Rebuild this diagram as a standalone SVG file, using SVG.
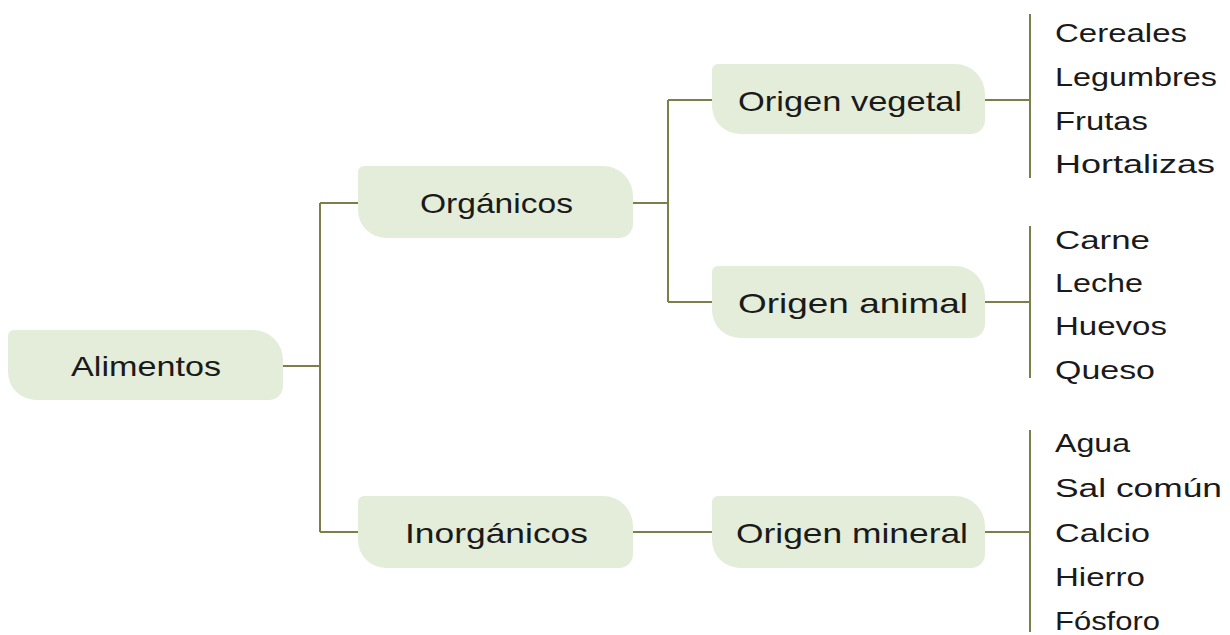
<svg xmlns="http://www.w3.org/2000/svg" width="1230" height="635" viewBox="0 0 1230 635">
<style>
.box{fill:#e3edda;}
.nt{font-family:"Liberation Sans","DejaVu Sans",sans-serif;font-size:28px;fill:#1a1a1a;text-anchor:start;}
.lt{font-family:"Liberation Sans","DejaVu Sans",sans-serif;font-size:25px;fill:#1a1a1a;}
.ln{stroke:#7d7f4a;stroke-width:2;fill:none;}
</style>
<rect width="1230" height="635" fill="#ffffff"/>
<g id="connectors" class="ln">
<path d="M283,366 H320 M320,203 V532 M320,203 H358 M320,532 H358"/>
<path d="M633,203 H668 M668,100 V302 M668,100 H712 M668,302 H712"/>
<path d="M633,532 H712"/>
<path d="M985,100 H1030 M1030,14 V178"/>
<path d="M985,302 H1030 M1030,226 V378"/>
<path d="M985,532 H1030 M1030,430 V632"/>
</g>
<g id="alimentos">
<path class="box" d="M14,330 H253 A30,30 0 0 1 283,360 V386 A14,14 0 0 1 269,400 H36 A28,28 0 0 1 8,372 V336 A6,6 0 0 1 14,330 Z"/>
<text class="nt" x="71" y="376" textLength="150" lengthAdjust="spacingAndGlyphs">Alimentos</text>
</g>
<g id="organicos">
<path class="box" d="M364,166 H603 A30,30 0 0 1 633,196 V224 A14,14 0 0 1 619,238 H386 A28,28 0 0 1 358,210 V172 A6,6 0 0 1 364,166 Z"/>
<text class="nt" x="420" y="213" textLength="153" lengthAdjust="spacingAndGlyphs">Orgánicos</text>
</g>
<g id="inorganicos">
<path class="box" d="M364,496 H603 A30,30 0 0 1 633,526 V554 A14,14 0 0 1 619,568 H386 A28,28 0 0 1 358,540 V502 A6,6 0 0 1 364,496 Z"/>
<text class="nt" x="405" y="543" textLength="183" lengthAdjust="spacingAndGlyphs">Inorgánicos</text>
</g>
<g id="origen-vegetal">
<path class="box" d="M718,64 H955 A30,30 0 0 1 985,94 V120 A14,14 0 0 1 971,134 H740 A28,28 0 0 1 712,106 V70 A6,6 0 0 1 718,64 Z"/>
<text class="nt" x="738" y="111" textLength="224" lengthAdjust="spacingAndGlyphs">Origen vegetal</text>
</g>
<g id="origen-animal">
<path class="box" d="M718,266 H955 A30,30 0 0 1 985,296 V324 A14,14 0 0 1 971,338 H740 A28,28 0 0 1 712,310 V272 A6,6 0 0 1 718,266 Z"/>
<text class="nt" x="738" y="313" textLength="230" lengthAdjust="spacingAndGlyphs">Origen animal</text>
</g>
<g id="origen-mineral">
<path class="box" d="M718,496 H955 A30,30 0 0 1 985,526 V554 A14,14 0 0 1 971,568 H740 A28,28 0 0 1 712,540 V502 A6,6 0 0 1 718,496 Z"/>
<text class="nt" x="736" y="543" textLength="232" lengthAdjust="spacingAndGlyphs">Origen mineral</text>
</g>
<g id="leaves-vegetal">
<text class="lt" x="1055" y="42" textLength="132" lengthAdjust="spacingAndGlyphs">Cereales</text>
<text class="lt" x="1055" y="86" textLength="162" lengthAdjust="spacingAndGlyphs">Legumbres</text>
<text class="lt" x="1055" y="130" textLength="93" lengthAdjust="spacingAndGlyphs">Frutas</text>
<text class="lt" x="1055" y="173" textLength="160" lengthAdjust="spacingAndGlyphs">Hortalizas</text>
</g>
<g id="leaves-animal">
<text class="lt" x="1055" y="249" textLength="95" lengthAdjust="spacingAndGlyphs">Carne</text>
<text class="lt" x="1055" y="292" textLength="88" lengthAdjust="spacingAndGlyphs">Leche</text>
<text class="lt" x="1055" y="335" textLength="112" lengthAdjust="spacingAndGlyphs">Huevos</text>
<text class="lt" x="1055" y="379" textLength="100" lengthAdjust="spacingAndGlyphs">Queso</text>
</g>
<g id="leaves-mineral">
<text class="lt" x="1055" y="452" textLength="75" lengthAdjust="spacingAndGlyphs">Agua</text>
<text class="lt" x="1055" y="497" textLength="167" lengthAdjust="spacingAndGlyphs">Sal común</text>
<text class="lt" x="1055" y="542" textLength="95" lengthAdjust="spacingAndGlyphs">Calcio</text>
<text class="lt" x="1055" y="586" textLength="90" lengthAdjust="spacingAndGlyphs">Hierro</text>
<text class="lt" x="1055" y="630" textLength="105" lengthAdjust="spacingAndGlyphs">Fósforo</text>
</g>
</svg>
